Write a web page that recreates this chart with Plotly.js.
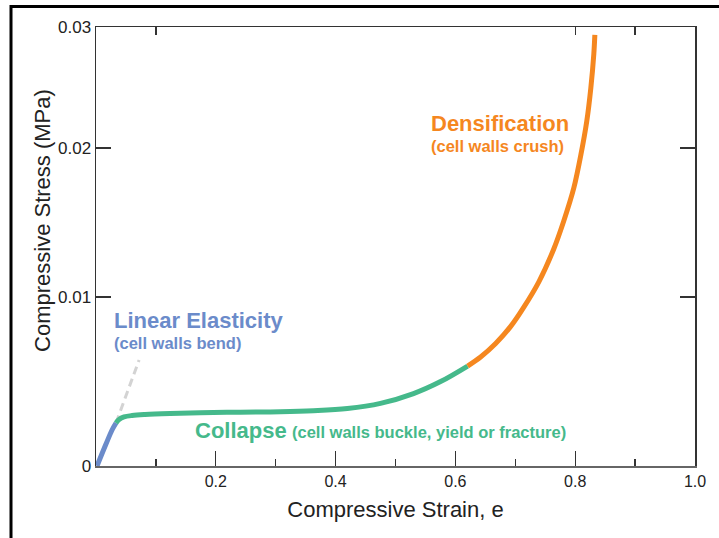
<!DOCTYPE html>
<html>
<head>
<meta charset="utf-8">
<script src="https://cdn.plot.ly/plotly-3.0.1.min.js"></script>
<style>
  html, body { margin: 0; padding: 0; background: #fff; }
  #chart { width: 719px; height: 538px; }
</style>
</head>
<body>
<div id="chart"></div>
<script>
// ---- Data (strain, stress drawn against the plot frame) ----
const elasticStrain = [0.0017, 0.0167, 0.0268, 0.0334];
const elasticStress = [0.0000, 0.00150, 0.00246, 0.00294];

const collapseStrain = [0.0334, 0.0385, 0.0468, 0.0602, 0.0819, 0.1237, 0.1739, 0.2408, 0.3077, 0.3629, 0.4197, 0.4749, 0.5301, 0.5753, 0.6204];
const collapseStress = [0.00294, 0.00318, 0.00335, 0.00345, 0.00352, 0.00359, 0.00364, 0.00368, 0.00371, 0.00378, 0.00393, 0.00428, 0.00495, 0.00577, 0.00683];

const densStrain = [0.6204, 0.6421, 0.6672, 0.6923, 0.7140, 0.7391, 0.7642, 0.7809, 0.7977, 0.8094, 0.8194, 0.8261, 0.8311, 0.8328];
const densStress = [0.00683, 0.00745, 0.00837, 0.00954, 0.01084, 0.01257, 0.01483, 0.01674, 0.01900, 0.02125, 0.02358, 0.02583, 0.02816, 0.02946];

const guideStrain = [0.0334, 0.0719];
const guideStress = [0.00294, 0.00724];

// ---- Tick labels ----
const xTickVals = [0.2, 0.4, 0.6, 0.8, 1.0];
const xTickText = ['0.2', '0.4', '0.6', '0.8', '1.0'];
const xMinorVals = [0.1, 0.3, 0.5, 0.7, 0.9];
const xTopTickVals = [0.1, 0.8, 0.9];
// y labels sit where the reference draws them on its (non-uniform) axis
const yTickVals = [0, 0.01155, 0.02173, 0.03];
const yTickText = ['0', '0.01', '0.02', '0.03'];

const BLUE = '#6b8bca', GREEN = '#45b98b', ORANGE = '#f5871f';
const FONT = 'Liberation Sans, Arial, Helvetica, sans-serif';

const traces = [
  { x: guideStrain, y: guideStress, mode: 'lines', line: { color: '#d3d3d3', width: 3, dash: '8px,5px' }, hoverinfo: 'skip', showlegend: false },
  { x: elasticStrain, y: elasticStress, mode: 'lines', line: { color: BLUE, width: 5, shape: 'spline' }, showlegend: false },
  { x: collapseStrain, y: collapseStress, mode: 'lines', line: { color: GREEN, width: 5, shape: 'spline' }, showlegend: false },
  { x: densStrain, y: densStress, mode: 'lines', line: { color: ORANGE, width: 5, shape: 'spline', smoothing: 0.8 }, showlegend: false },
  { x: [0.5], y: [0.0], xaxis: 'x2', mode: 'markers', marker: { opacity: 0 }, hoverinfo: 'skip', showlegend: false }
];

const layout = {
  width: 719, height: 538,
  margin: { l: 96, r: 24, t: 27, b: 72 },
  paper_bgcolor: '#ffffff', plot_bgcolor: '#ffffff',
  font: { family: FONT, color: '#222' },
  showlegend: false,
  xaxis: {
    range: [0, 1], showgrid: false, zeroline: false,
    showline: true, linecolor: '#666', linewidth: 2, mirror: false,
    tickmode: 'array', tickvals: xTickVals, ticktext: xTickText,
    ticks: 'inside', ticklen: 15, tickwidth: 1.3, tickcolor: '#333',
    minor: { tickmode: 'array', tickvals: xMinorVals, ticks: 'inside', ticklen: 7, tickwidth: 1.3, tickcolor: '#333', showgrid: false },
    tickfont: { size: 16, color: '#222' },
    title: { text: 'Compressive Strain, e', font: { size: 22, color: '#222' }, standoff: 12 }
  },
  xaxis2: {
    overlaying: 'x', side: 'top', range: [0, 1], showgrid: false, zeroline: false,
    showline: true, linecolor: '#333', linewidth: 1.5,
    tickmode: 'array', tickvals: xTopTickVals, showticklabels: false,
    ticks: 'inside', ticklen: 8, tickwidth: 1.3, tickcolor: '#333'
  },
  yaxis: {
    range: [0, 0.03], showgrid: false, zeroline: false,
    showline: true, linecolor: '#333', linewidth: 1.5, mirror: 'ticks',
    tickmode: 'array', tickvals: yTickVals, ticktext: yTickText,
    ticks: 'inside', ticklen: 15, tickwidth: 1.3, tickcolor: '#333',
    tickfont: { size: 17, color: '#222' }
  },
  annotations: [
    { xref: 'paper', yref: 'paper', x: -0.0885, y: 0.5604, text: 'Compressive Stress (MPa)', textangle: -90,
      showarrow: false, xanchor: 'center', yanchor: 'middle', font: { size: 22, color: '#222' } },
    { xref: 'paper', yref: 'paper', x: 0.0268, y: 0.3303, text: '<b>Linear Elasticity</b>', showarrow: false,
      xanchor: 'left', yanchor: 'middle', font: { size: 22, color: BLUE } },
    { xref: 'paper', yref: 'paper', x: 0.0268, y: 0.2802, text: '<b>(cell walls bend)</b>', showarrow: false,
      xanchor: 'left', yanchor: 'middle', font: { size: 16.5, color: BLUE } },
    { xref: 'paper', yref: 'paper', x: 0.5560, y: 0.7813, text: '<b>Densification</b>', showarrow: false,
      xanchor: 'left', yanchor: 'middle', font: { size: 22, color: ORANGE } },
    { xref: 'paper', yref: 'paper', x: 0.5560, y: 0.7289, text: '<b>(cell walls crush)</b>', showarrow: false,
      xanchor: 'left', yanchor: 'middle', font: { size: 16.5, color: ORANGE } },
    { xref: 'paper', yref: 'paper', x: 0.1620, y: 0.0820, text: '<b>Collapse</b>', showarrow: false,
      xanchor: 'left', yanchor: 'middle', font: { size: 22, color: GREEN } },
    { xref: 'paper', yref: 'paper', x: 0.3245, y: 0.0774, text: '<b>(cell walls buckle, yield or fracture)</b>', showarrow: false,
      xanchor: 'left', yanchor: 'middle', font: { size: 16.5, color: GREEN } }
  ],
  shapes: [
    { type: 'path', xref: 'paper', yref: 'paper', path: 'M -0.1419,-0.5 L -0.1419,1.0467 L 1.2,1.0467',
      line: { color: '#000', width: 3 } }
  ]
};

Plotly.newPlot('chart', traces, layout, { staticPlot: true, displayModeBar: false });
</script>
</body>
</html>
